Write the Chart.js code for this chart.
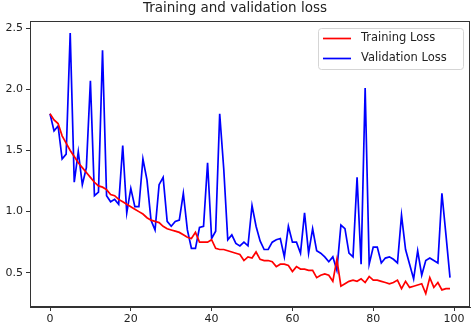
<!DOCTYPE html>
<html>
<head>
<meta charset="utf-8">
<script src="https://cdn.jsdelivr.net/npm/chart.js@4/dist/chart.umd.min.js"></script>
<style>
  html, body { margin: 0; padding: 0; background: #ffffff; }
  #wrap { width: 474px; height: 330px; }
</style>
</head>
<body>
<div id="wrap"><canvas id="c" width="474" height="330"></canvas></div>
<script>
const titleText = "Training and validation loss";
const seriesNames = ["Training Loss", "Validation Loss"];
const epochs = Array.from({length: 100}, (_, i) => i);
const trainingLoss = [
  1.80, 1.75, 1.72, 1.62, 1.56, 1.50, 1.45, 1.40, 1.36, 1.32,
  1.28, 1.24, 1.21, 1.20, 1.18, 1.14, 1.13, 1.10, 1.08, 1.06,
  1.04, 1.02, 1.00, 0.98, 0.95, 0.93, 0.92, 0.91, 0.88, 0.86,
  0.85, 0.84, 0.83, 0.81, 0.79, 0.78, 0.83, 0.75, 0.75, 0.75,
  0.77, 0.70, 0.69, 0.69, 0.68, 0.67, 0.66, 0.65, 0.60, 0.63,
  0.62, 0.67, 0.61, 0.60, 0.60, 0.59, 0.55, 0.57, 0.57, 0.56,
  0.51, 0.55, 0.53, 0.53, 0.52, 0.52, 0.46, 0.48, 0.49, 0.48,
  0.43, 0.61, 0.39, 0.41, 0.43, 0.44, 0.43, 0.45, 0.42, 0.47,
  0.44, 0.44, 0.43, 0.42, 0.41, 0.42, 0.44, 0.37, 0.43, 0.38,
  0.39, 0.40, 0.41, 0.33, 0.46, 0.38, 0.42, 0.36, 0.37, 0.37
];
const validationLoss = [
  1.80, 1.66, 1.70, 1.43, 1.47, 2.46, 1.24, 1.49, 1.22, 1.36,
  2.07, 1.13, 1.16, 2.32, 1.13, 1.08, 1.10, 1.06, 1.54, 0.99,
  1.19, 1.04, 1.04, 1.43, 1.26, 0.93, 0.85, 1.22, 1.28, 0.92,
  0.88, 0.92, 0.93, 1.15, 0.85, 0.70, 0.70, 0.87, 0.88, 1.40,
  0.78, 0.84, 1.80, 1.35, 0.77, 0.81, 0.74, 0.72, 0.75, 0.72,
  1.05, 0.88, 0.76, 0.69, 0.69, 0.75, 0.77, 0.78, 0.63, 0.88,
  0.75, 0.75, 0.66, 0.99, 0.66, 0.86, 0.68, 0.66, 0.63, 0.59,
  0.63, 0.52, 0.89, 0.86, 0.66, 0.63, 1.28, 0.57, 2.01, 0.57,
  0.71, 0.71, 0.58, 0.62, 0.63, 0.61, 0.58, 0.97, 0.69, 0.57,
  0.45, 0.68, 0.48, 0.60, 0.62, 0.60, 0.58, 1.15, 0.81, 0.46
];
const xTicks = [0, 20, 40, 60, 80, 100];
const yTicks = [0.5, 1.0, 1.5, 2.0, 2.5];
const seriesColors = ["#ff0000", "#0000ff"];

const FONT = "'DejaVu Sans', sans-serif";

const frameAndLegend = {
  id: "frameAndLegend",
  afterDraw(chart) {
    const ctx = chart.ctx;
    const a = chart.chartArea;
    ctx.save();
    ctx.strokeStyle = "#333333";
    ctx.lineWidth = 1;
    ctx.strokeRect(Math.round(a.left) + 0.5, Math.round(a.top) + 0.5,
                   Math.round(a.right - a.left) - 1, Math.round(a.bottom - a.top) - 1);
    // legend (matplotlib style, upper right)
    const bx = 318, by = 28, bw = 145, bh = 41, r = 3;
    ctx.globalAlpha = 0.8;
    ctx.fillStyle = "#ffffff";
    ctx.beginPath();
    ctx.roundRect(bx + 0.5, by + 0.5, bw, bh, r);
    ctx.fill();
    ctx.globalAlpha = 1;
    ctx.strokeStyle = "#d5d5d5";
    ctx.stroke();
    ctx.font = "11.5px " + FONT;
    ctx.textBaseline = "middle";
    ctx.textAlign = "left";
    const rows = [by + 10.5, by + 30.5];
    seriesNames.forEach((name, k) => {
      ctx.strokeStyle = seriesColors[k];
      ctx.lineWidth = 1.7;
      ctx.beginPath();
      ctx.moveTo(bx + 5, rows[k]);
      ctx.lineTo(bx + 33, rows[k]);
      ctx.stroke();
      ctx.fillStyle = "#222222";
      ctx.fillText(name, bx + 43, rows[k]);
    });
    ctx.restore();
  }
};

new Chart(document.getElementById("c"), {
  type: "line",
  data: {
    datasets: [
      {
        label: seriesNames[0],
        data: epochs.map((e, i) => ({x: e, y: trainingLoss[i]})),
        borderColor: seriesColors[0],
        backgroundColor: seriesColors[0],
        borderWidth: 1.7,
        pointRadius: 0,
        tension: 0,
        fill: false
      },
      {
        label: seriesNames[1],
        data: epochs.map((e, i) => ({x: e, y: validationLoss[i]})),
        borderColor: seriesColors[1],
        backgroundColor: seriesColors[1],
        borderWidth: 1.7,
        pointRadius: 0,
        tension: 0,
        fill: false
      }
    ]
  },
  options: {
    responsive: false,
    animation: false,
    devicePixelRatio: 1,
    layout: { padding: { left: 0, right: 4, top: 0, bottom: 0 } },
    plugins: {
      legend: { display: false },
      tooltip: { enabled: false },
      title: {
        display: true,
        text: titleText,
        color: "#222222",
        font: { family: FONT, size: 13.5, weight: "normal" },
        padding: { top: 0, bottom: 5 }
      }
    },
    scales: {
      x: {
        type: "linear",
        min: -4.95,
        max: 103.95,
        afterBuildTicks(scale) { scale.ticks = xTicks.map(v => ({value: v})); },
        afterFit(scale) { scale.height = 23; },
        ticks: {
          color: "#222222",
          font: { family: FONT, size: 11 },
          padding: 2,
          maxRotation: 0,
          callback: v => String(v)
        },
        grid: { display: true, drawOnChartArea: false, drawTicks: true, tickLength: 4, color: "#333333" },
        border: { display: true, color: "#333333" }
      },
      y: {
        type: "linear",
        min: 0.22,
        max: 2.557,
        afterBuildTicks(scale) { scale.ticks = yTicks.map(v => ({value: v})); },
        afterFit(scale) { scale.width = 30; },
        ticks: {
          color: "#222222",
          font: { family: FONT, size: 11 },
          padding: 3,
          callback: v => v.toFixed(1)
        },
        grid: { display: true, drawOnChartArea: false, drawTicks: true, tickLength: 4, color: "#333333" },
        border: { display: true, color: "#333333" }
      }
    }
  },
  plugins: [frameAndLegend]
});
</script>
</body>
</html>
